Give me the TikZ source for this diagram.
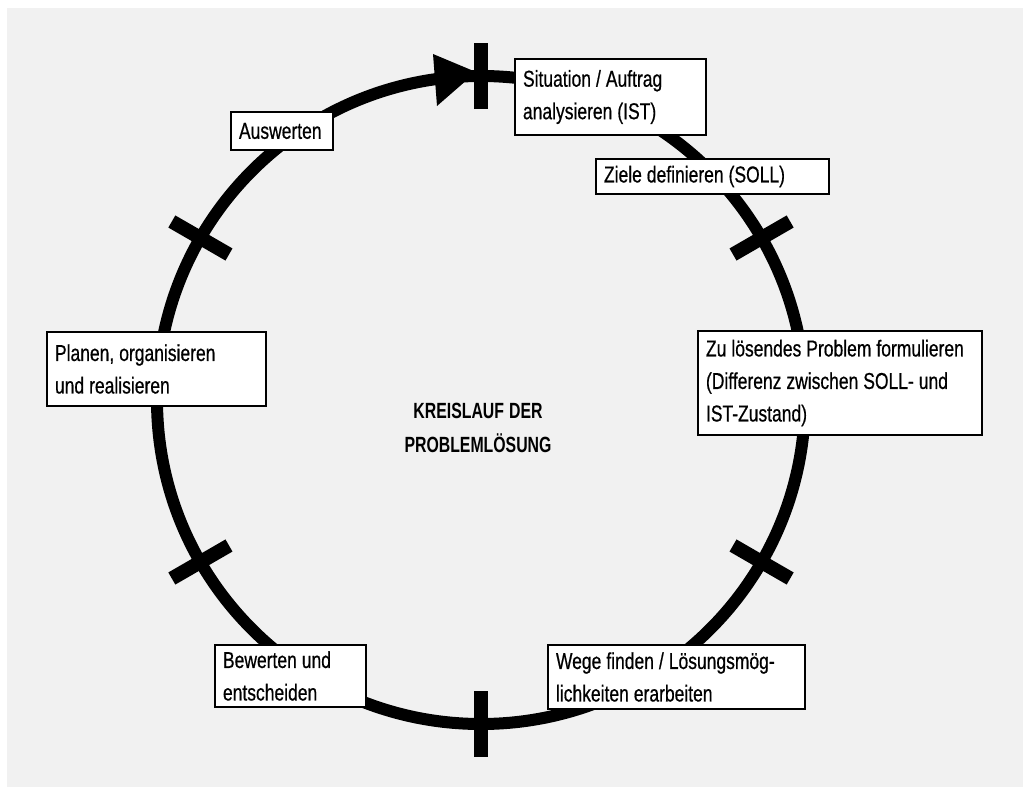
\documentclass[tikz,border=0pt]{standalone}
\usepackage{fontspec}
\setmainfont{Liberation Sans}[FakeStretch=0.76, FakeBold=0.6]
\newfontfamily\titlefont{Liberation Sans}[FakeStretch=0.72]
\usepackage{tikz}
\usetikzlibrary{arrows.meta}
\definecolor{panel grey}{RGB}{241,241,241}
\tikzset{
    ring/.style={line width=12bp},
    tickmark/.style={line width=14bp},
    tightwords/.style={execute at begin node={\spaceskip=5bp\relax}},
    stepbox/.style={draw, fill=white, line width=2.2bp, align=left, inner xsep=8bp,
        tightwords, font=\fontsize{23bp}{32.5bp}\selectfont},
}

\begin{document}
\begin{tikzpicture}[x=1bp, y=-1bp]
    \useasboundingbox (0,0) rectangle (1023,787);
    \fill[panel grey] (7,8) rectangle (1023,787);
    \draw[ring] (481,400) circle [radius=324bp];
    \begin{scope}[shift={(481,400)}]
        \foreach \a in {30, 90, ..., 330} {
            \draw[tickmark] (\a:291) -- (\a:357);
        }
    \end{scope}
    \fill (433,54) -- (476,72) -- (437,106) -- cycle;
    \node[stepbox, minimum width=102bp, minimum height=38bp, text width=86bp] (auswerten) at (282,131) {Auswerten};
    \node[stepbox, minimum width=191bp, minimum height=76bp, text width=175bp] (situation) at (610.5,97) {Situation / Auftrag\\analysieren (IST)};
    \node[stepbox, minimum width=233bp, minimum height=35bp, text width=217bp] (ziele) at (712.5,176.5) {Ziele definieren (SOLL)};
    \node[stepbox, minimum width=219bp, minimum height=74bp, text width=203bp] (planen) at (156.5,369) {Planen, organisieren\\und realisieren};
    \node[stepbox, minimum width=284bp, minimum height=104bp, text width=268bp] (problem) at (840,383) {Zu lösendes Problem formulieren\\(Differenz zwischen SOLL- und\\IST-Zustand)};
    \node[stepbox, minimum width=151bp, minimum height=62bp, text width=135bp] (bewerten) at (290.5,676) {Bewerten und\\entscheiden};
    \node[stepbox, minimum width=257bp, minimum height=64bp, text width=241bp] (wege) at (676.5,677) {Wege finden / Lösungsmög-\\lichkeiten erarbeiten};
    \node[align=center, tightwords, font=\titlefont\bfseries\fontsize{22bp}{34bp}\selectfont] (titel) at (478,428) {KREISLAUF DER\\PROBLEMLÖSUNG};
\end{tikzpicture}
\end{document}
